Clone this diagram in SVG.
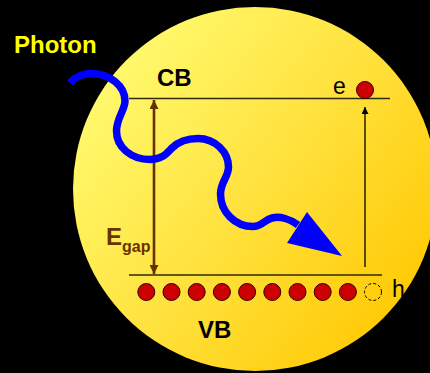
<svg xmlns="http://www.w3.org/2000/svg" width="430" height="373" viewBox="0 0 430 373">
  <defs>
    <linearGradient id="sun" x1="0.05" y1="0.15" x2="0.95" y2="0.85">
      <stop offset="0" stop-color="#FFFC72"/>
      <stop offset="0.5" stop-color="#FFE23E"/>
      <stop offset="1" stop-color="#FFC800"/>
    </linearGradient>
    <marker id="brownHead" viewBox="0 0 10 10" refX="10" refY="5" markerWidth="10" markerHeight="9" markerUnits="userSpaceOnUse" orient="auto-start-reverse">
      <path d="M0,0 L10,5 L0,10 z" fill="#663300"/>
    </marker>
    <marker id="blackHead" viewBox="0 0 10 10" refX="10" refY="5" markerWidth="8" markerHeight="7" markerUnits="userSpaceOnUse" orient="auto">
      <path d="M0,0 L10,5 L0,10 z" fill="#000"/>
    </marker>
  </defs>
  <style>
    .lbl { font-family: "Liberation Sans", Arial, sans-serif; }
    .bold { font-weight: bold; font-size: 24px; }
    .band { stroke: #2E2A10; stroke-width: 1.3; fill: none; }
    .dot { fill: #CC0000; stroke: #330000; stroke-width: 1; }
  </style>
  <rect x="0" y="0" width="430" height="373" fill="#000"/>
  <circle id="crystal" cx="255" cy="189" r="182" fill="url(#sun)"/>

  <g id="connectors">
    <line x1="154" y1="100" x2="154" y2="274" stroke="#663300" stroke-width="2.6" marker-start="url(#brownHead)" marker-end="url(#brownHead)"/>
    <line x1="365" y1="267" x2="365" y2="107" stroke="#000" stroke-width="1.3" marker-end="url(#blackHead)"/>
  </g>

  <g id="CB">
    <line class="band" x1="129" y1="98.5" x2="390" y2="98.5"/>
    <text class="lbl bold" x="157" y="86" fill="#000">CB</text>
  </g>

  <g id="VB">
    <line class="band" x1="129" y1="275" x2="382" y2="275"/>
    <text class="lbl bold" x="198" y="338" fill="#000">VB</text>
  </g>

  <g id="Egap">
    <text class="lbl" x="106" y="245" fill="#663300" font-weight="bold" font-size="24">E<tspan font-size="16" dy="7">gap</tspan></text>
  </g>

  <g id="electron">
    <circle class="dot" cx="365" cy="90" r="8.5"/>
    <text class="lbl" x="333" y="94" font-size="23" fill="#000">e</text>
  </g>

  <g id="valence-electrons">
    <circle class="dot" cx="146.3" cy="292" r="8.5"/>
    <circle class="dot" cx="171.5" cy="292" r="8.5"/>
    <circle class="dot" cx="196.7" cy="292" r="8.5"/>
    <circle class="dot" cx="221.9" cy="292" r="8.5"/>
    <circle class="dot" cx="247.1" cy="292" r="8.5"/>
    <circle class="dot" cx="272.3" cy="292" r="8.5"/>
    <circle class="dot" cx="297.5" cy="292" r="8.5"/>
    <circle class="dot" cx="322.7" cy="292" r="8.5"/>
    <circle class="dot" cx="347.9" cy="292" r="8.5"/>
  </g>

  <g id="hole">
    <circle cx="373" cy="292" r="8.5" fill="none" stroke="#000" stroke-width="1" stroke-dasharray="3,2"/>
    <text class="lbl" x="392" y="297" font-size="23" fill="#000">h</text>
  </g>

  <g id="photon">
    <path d="M70,83 C76,76 83,73.5 91,73.5 C110,73.5 125,86 125,101 C125,110 116.5,118 116.5,131 C116.5,147 131,159.5 150,159.5 C162,159.5 166,154 172,148 C178,142 186,138.5 198,138.5 C215,138.5 228.5,152 228.5,167 C228.5,177 220.5,182 220.5,194 C220.5,212 235,226.5 253,226.5 C262,226.5 264,220 272,218 C280,216 290,219 298,225" fill="none" stroke="#0000FF" stroke-width="7.5"/>
    <polygon points="342,256 287,243 307,212" fill="#0000FF"/>
    <text class="lbl bold" x="14" y="53" fill="#FFFF00">Photon</text>
  </g>
</svg>
